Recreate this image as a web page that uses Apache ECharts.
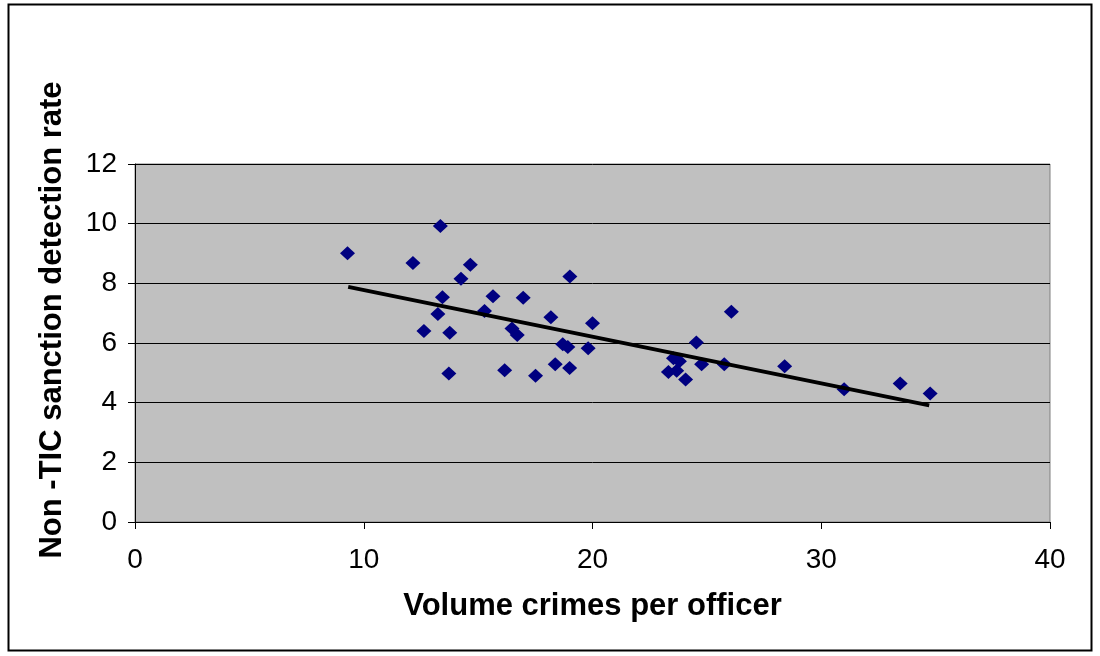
<!DOCTYPE html>
<html>
<head>
<meta charset="utf-8">
<script src="https://cdn.jsdelivr.net/npm/echarts@6/dist/echarts.min.js"></script>
<style>html,body{margin:0;padding:0;background:#fff}#c{width:1100px;height:656px}</style>
</head>
<body>
<div id="c"></div>
<script>
var crimesPerOfficer = [9.29,12.15,13.35,14.66,14.25,13.44,13.24,12.63,13.76,13.72,15.65,15.28,16.97,19.01,18.18,16.48,16.71,16.16,17.51,18.37,18.70,18.92,19.00,19.81,20.00,26.07,24.54,23.54,23.80,23.32,23.68,24.07,24.77,25.76,28.40,31.00,33.45,34.76];
var detectionRate = [9.01,8.68,9.92,8.62,8.15,7.53,6.97,6.40,6.34,4.98,7.57,7.07,7.52,8.23,6.86,6.49,6.27,5.09,4.90,5.29,5.96,5.87,5.16,5.82,6.66,7.05,6.02,5.49,5.39,5.03,5.07,4.78,5.29,5.29,5.22,4.45,4.64,4.31];
var trendX = [9.32, 34.72];
var trendY = [7.88, 3.91];
var xTicks = [0,10,20,30,40];
var yTicks = [0,2,4,6,8,10,12];

var pts = crimesPerOfficer.map(function(x,i){return [x, detectionRate[i]];});
var trend = trendX.map(function(x,i){return [x, trendY[i]];});
var font = '"Liberation Sans", Arial, sans-serif';

var chart = echarts.init(document.getElementById('c'), null, {renderer:'canvas'});
chart.setOption({
  animation:false,
  graphic:[{type:'rect', shape:{x:8.5,y:4.5,width:1083,height:646}, style:{fill:null, stroke:'#000', lineWidth:2}, z:-10}],
  grid:{left:135, right:50, top:164, bottom:134, show:true, backgroundColor:'#c0c0c0', borderColor:'#808080', borderWidth:1},
  xAxis:{type:'value', min:0, max:40, interval:10,
    name:'Volume crimes per officer', nameLocation:'middle', nameGap:69,
    nameTextStyle:{fontFamily:font, fontSize:31, fontWeight:'bold', color:'#000'},
    axisLine:{show:true, onZero:false, lineStyle:{color:'#000', width:1}},
    axisTick:{show:true, length:7, lineStyle:{color:'#000'}},
    axisLabel:{fontFamily:font, fontSize:28, color:'#000', margin:24,
      formatter:function(v){return xTicks.indexOf(v)>=0?String(v):'';}},
    splitLine:{show:false}},
  yAxis:{type:'value', min:0, max:12, interval:2,
    name:'Non -TIC sanction detection rate', nameLocation:'middle', nameGap:67, nameRotate:90,
    nameTextStyle:{fontFamily:font, fontSize:31, fontWeight:'bold', color:'#000', padding:[0,0,0,46]},
    axisLine:{show:true, onZero:false, lineStyle:{color:'#000', width:1}},
    axisTick:{show:true, length:7, lineStyle:{color:'#000'}},
    axisLabel:{fontFamily:font, fontSize:28, color:'#000', margin:18,
      formatter:function(v){return yTicks.indexOf(v)>=0?String(v):'';}},
    splitLine:{show:true, lineStyle:{color:'#000', width:1}}},
  series:[
    {type:'scatter', data:pts, symbol:'diamond', symbolSize:[15,14], itemStyle:{color:'#000080', opacity:1}, z:3},
    {type:'line', data:trend, symbol:'none', lineStyle:{color:'#000', width:4}, z:4}
  ]
});
</script>
</body>
</html>
